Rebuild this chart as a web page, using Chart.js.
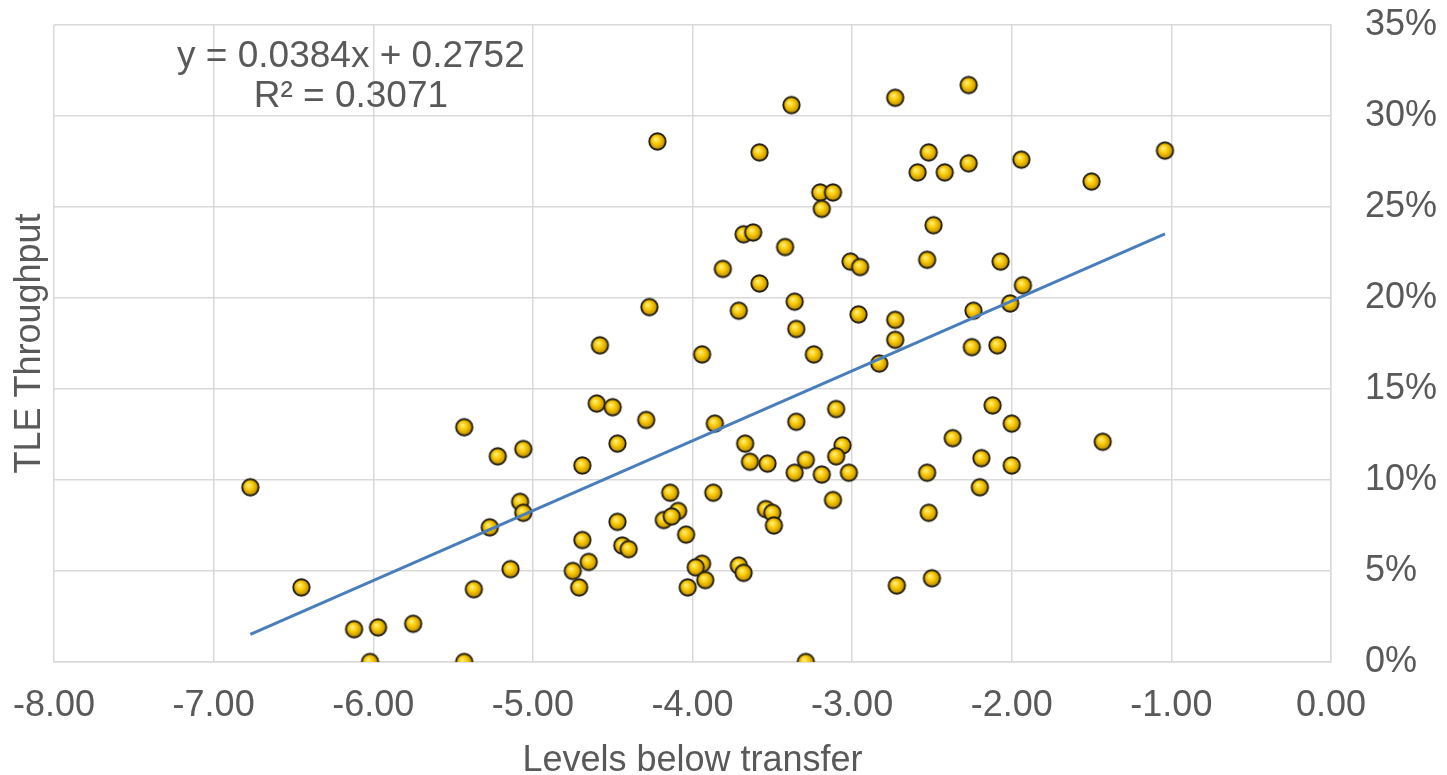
<!DOCTYPE html>
<html>
<head>
<meta charset="utf-8">
<script src="https://cdn.jsdelivr.net/npm/chart.js@4.4.1/dist/chart.umd.min.js"></script>
<style>
  body { margin: 0; background: #fff; }
  #wrap { width: 1447px; height: 775px; }
</style>
</head>
<body>
<div id="wrap"><canvas id="myChart" width="1447" height="775"></canvas></div>
<script>
// levels below transfer (x) and TLE throughput (y), same order
var levels = [
  -6.77, -6.45, -6.12, -5.97, -5.75, -6.02, -5.43, -5.43, -5.22, -5.06,
  -5.08, -5.06, -5.27, -5.14, -5.37, -4.69, -4.69, -4.75, -4.71, -4.60,
  -4.50, -4.29, -4.47, -3.86, -3.67, -3.64, -3.53, -3.35, -3.10, -3.06,
  -3.10, -3.29, -3.36, -3.19, -3.02, -3.12, -2.83, -4.14, -4.09, -4.18,
  -4.13, -4.47, -4.44, -4.40, -4.65, -4.04, -3.94, -3.98, -3.92, -4.03,
  -3.87, -3.71, -3.68, -3.54, -3.50, -3.49, -3.29, -2.72, -3.38, -2.73,
  -4.22, -3.58, -3.20, -3.12, -3.19, -3.68, -3.62, -3.42, -3.81, -3.58,
  -3.01, -2.95, -4.27, -3.71, -3.36, -2.96, -4.58, -3.94, -3.35, -3.24,
  -2.73, -2.73, -2.27, -2.52, -2.59, -2.42, -2.27, -1.94, -1.50, -1.04,
  -2.49, -2.53, -2.07, -1.93, -2.01, -2.24, -2.25, -2.09, -2.12, -2.00,
  -2.37, -1.43, -2.19, -2.00, -2.53, -2.20, -2.52, -2.50
];
var throughput = [
  0.096, 0.041, 0.018, 0.019, 0.021, 0.000, 0.000, 0.129, 0.113, 0.117,
  0.088, 0.082, 0.074, 0.051, 0.040, 0.108, 0.067, 0.050, 0.041, 0.142,
  0.140, 0.133, 0.120, 0.131, 0.120, 0.110, 0.109, 0.132, 0.139, 0.119,
  0.113, 0.111, 0.104, 0.103, 0.104, 0.089, 0.164, 0.093, 0.083, 0.078,
  0.080, 0.077, 0.064, 0.062, 0.055, 0.070, 0.054, 0.052, 0.045, 0.041,
  0.093, 0.053, 0.049, 0.084, 0.082, 0.075, 0.000, 0.042, 0.306, 0.310,
  0.286, 0.280, 0.258, 0.258, 0.249, 0.235, 0.236, 0.228, 0.216, 0.208,
  0.220, 0.217, 0.195, 0.193, 0.198, 0.191, 0.174, 0.169, 0.183, 0.169,
  0.188, 0.177, 0.317, 0.280, 0.269, 0.269, 0.274, 0.276, 0.264, 0.281,
  0.240, 0.221, 0.220, 0.207, 0.197, 0.193, 0.173, 0.174, 0.141, 0.131,
  0.123, 0.121, 0.112, 0.108, 0.104, 0.096, 0.082, 0.046
];

// linear trendline as printed on the chart
var trendSlope = 0.0384;
var trendIntercept = 0.2752;
var equationLines = ["y = 0.0384x + 0.2752", "R\u00b2 = 0.3071"];

var FONT = '"Liberation Sans", Arial, sans-serif';
var TEXT = "#595959";
var GRID = "#d9d9d9";

var points = levels.map(function (v, i) { return { x: v, y: throughput[i] }; });
var xMin = Math.min.apply(null, levels);
var xMax = Math.max.apply(null, levels);
var trend = [xMin, xMax].map(function (v) { return { x: v, y: trendSlope * v + trendIntercept }; });

// gold ball marker
function makeDot() {
  var c = document.createElement("canvas");
  c.width = 21; c.height = 21;
  var g = c.getContext("2d");
  var grad = g.createRadialGradient(8.5, 8, 0.5, 10.5, 10.5, 9);
  grad.addColorStop(0, "#fff07a");
  grad.addColorStop(0.45, "#f8c600");
  grad.addColorStop(1, "#a87f00");
  g.beginPath();
  g.arc(10.5, 10.5, 8.2, 0, Math.PI * 2);
  g.fillStyle = grad;
  g.fill();
  g.lineWidth = 1.9;
  g.strokeStyle = "#241f12";
  g.stroke();
  return c;
}

// equation text in the top-left corner
var equationLabel = {
  id: "equationLabel",
  afterDatasetsDraw: function (chart) {
    var ctx = chart.ctx, x = chart.scales.x, y = chart.scales.y;
    ctx.save();
    ctx.font = "37px " + FONT;
    ctx.fillStyle = TEXT;
    ctx.textAlign = "center";
    ctx.textBaseline = "middle";
    ctx.fillText(equationLines[0], x.getPixelForValue(-6.14), y.getPixelForValue(0.3323));
    ctx.fillText(equationLines[1], x.getPixelForValue(-6.14), y.getPixelForValue(0.3104));
    ctx.restore();
  }
};

var ctx = document.getElementById("myChart").getContext("2d");
var myChart = new Chart(ctx, {
  type: "scatter",
  data: {
    datasets: [
      {
        type: "line",
        data: trend,
        borderColor: "#4a7ebb",
        borderWidth: 3,
        pointRadius: 0,
        fill: false,
        order: 0
      },
      {
        data: points,
        pointStyle: makeDot(),
        pointRadius: 9,
        order: 1
      }
    ]
  },
  options: {
    responsive: false,
    animation: false,
    events: [],
    layout: { padding: { top: 25, right: 0, bottom: 0, left: 0 } },
    plugins: { legend: { display: false }, tooltip: { enabled: false } },
    scales: {
      x: {
        type: "linear",
        min: -8, max: 0,
        ticks: {
          stepSize: 1,
          padding: 0,
          color: TEXT,
          font: { family: FONT, size: 36 },
          callback: function (v) { return v.toFixed(2); }
        },
        // invisible tick marks push the labels away from the plot
        grid: { color: GRID, lineWidth: 1.5, tickLength: 22, tickColor: "rgba(0,0,0,0)" },
        border: { color: GRID, width: 1.5 },
        title: {
          display: true,
          text: "Levels below transfer",
          color: TEXT,
          font: { family: FONT, size: 36, lineHeight: 0.75 },
          padding: 0
        },
        afterFit: function (s) { s.height = 113; }
      },
      y: {
        position: "right",
        min: 0, max: 0.35,
        ticks: {
          stepSize: 0.05,
          padding: 0,
          color: TEXT,
          font: { family: FONT, size: 36 },
          callback: function (v) { return Math.round(v * 100) + "%"; }
        },
        grid: { color: GRID, lineWidth: 1.5, tickLength: 34, tickColor: "rgba(0,0,0,0)" },
        border: { color: GRID, width: 1.5 },
        afterFit: function (s) { s.width = 116; }
      },
      yTitle: {
        position: "left",
        type: "linear",
        ticks: { display: false },
        grid: { display: false },
        border: { display: false },
        title: {
          display: true,
          text: "TLE Throughput",
          color: TEXT,
          font: { family: FONT, size: 36, lineHeight: 1 },
          padding: { top: 12, bottom: 0 }
        },
        afterFit: function (s) { s.width = 54; }
      }
    }
  },
  plugins: [equationLabel]
});
</script>
</body>
</html>
